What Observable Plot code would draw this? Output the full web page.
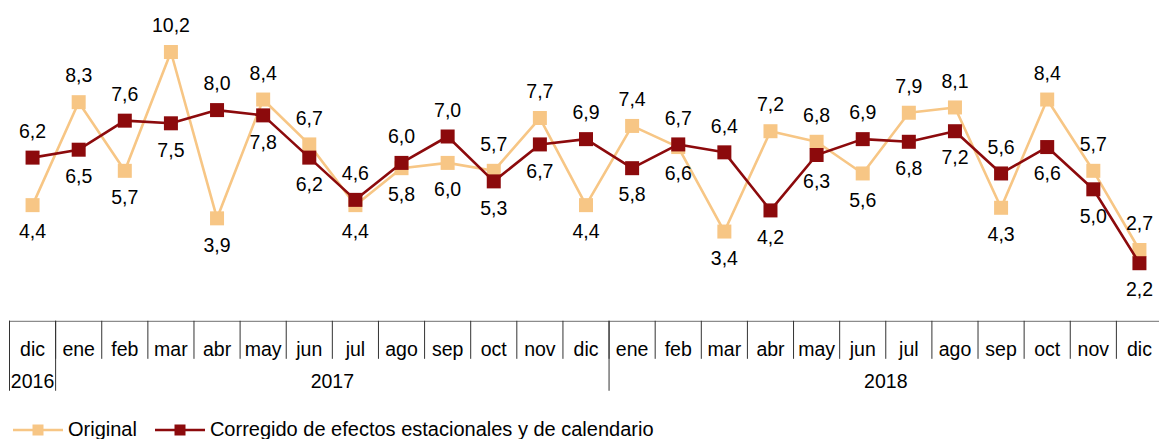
<!DOCTYPE html>
<html>
<head>
<meta charset="utf-8">
<script src="https://cdn.jsdelivr.net/npm/d3@7"></script>
<script src="https://cdn.jsdelivr.net/npm/@observablehq/plot@0.6"></script>
<style>
  html, body { margin: 0; padding: 0; background: #fff; overflow: hidden; }
  body { font-family: "Liberation Sans", Arial, sans-serif; }
  #wrap { position: relative; width: 1159px; height: 439px; }
  #legend { position: absolute; left: 0; top: 419px; height: 21px; display: flex; align-items: center; font-size: 20px; color: #000; }
  .item { display: flex; align-items: center; }
  .item svg { display: block; }
</style>
</head>
<body>
<div id="wrap">
  <div id="chart"></div>
  <div id="legend"></div>
</div>
<script>
// ---- data ----
const months = ["dic","ene","feb","mar","abr","may","jun","jul","ago","sep","oct","nov","dic",
                "ene","feb","mar","abr","may","jun","jul","ago","sep","oct","nov","dic"];
const yearLabels = ["2016", "2017", "2018"];
const yearMonthCounts = [1, 12, 12];
const original = [4.4, 8.3, 5.7, 10.2, 3.9, 8.4, 6.7, 4.4, 5.8, 6.0, 5.7, 7.7, 4.4,
                  7.4, 6.6, 3.4, 7.2, 6.8, 5.6, 7.9, 8.1, 4.3, 8.4, 5.7, 2.7];
const corrected = [6.2, 6.5, 7.6, 7.5, 8.0, 7.8, 6.2, 4.6, 6.0, 7.0, 5.3, 6.7, 6.9,
                   5.8, 6.7, 6.4, 4.2, 6.3, 6.9, 6.8, 7.2, 5.6, 6.6, 5.0, 2.2];
const seriesNames = ["Original", "Corregido de efectos estacionales y de calendario"];
const colors = ["#F7C685", "#8C0A0C"];

// ---- derived tables ----
const rows = [];
months.forEach((m, i) => {
  const o = original[i], c = corrected[i];
  rows.push({i, series: seriesNames[0], value: o, above: o > c});
  rows.push({i, series: seriesNames[1], value: c, above: c >= o});
});
const fmt = v => v.toFixed(1).replace(".", ",");

const bounds = [-0.5];
yearMonthCounts.forEach(n => bounds.push(bounds[bounds.length - 1] + n));
const yearRows = yearLabels.map((y, k) => ({label: y, x: (bounds[k] + bounds[k + 1]) / 2}));
const yearDividers = bounds.slice(0, yearLabels.length); // left edges (no right border)

const origRows = rows.filter(d => d.series === seriesNames[0]);
const corrRows = rows.filter(d => d.series === seriesNames[1]);

const chart = Plot.plot({
  width: 1159,
  height: 400,
  marginTop: 4, marginBottom: 0, marginLeft: 0, marginRight: 0,
  x: {type: "linear", domain: [-0.5, 24.5], range: [9, 1162], axis: null},
  y: {domain: [-3, 12], range: [400, 4], axis: null},
  style: {fontFamily: "'Liberation Sans', Arial, sans-serif", fontSize: "19.5px", overflow: "visible", background: "#fff"},
  marks: [
    // table
    Plot.ruleY([0], {x1: -0.5, x2: 24.5, stroke: "#8c8c8c", strokeWidth: 1.3}),
    Plot.ruleX(months, {x: (d, i) => i - 0.5, y1: 0, y2: -1.44, stroke: "#333", strokeWidth: 1}),
    Plot.ruleX(yearDividers, {x: d => d, y1: 0, y2: -2.65, stroke: "#333", strokeWidth: 1}),
    Plot.text(months, {x: (d, i) => i, y: -1.07, text: d => d, fill: "#000"}),
    Plot.text(yearRows, {x: "x", y: -2.28, text: "label", fill: "#000"}),
    // original
    Plot.line(origRows, {x: "i", y: "value", stroke: colors[0], strokeWidth: 2.6}),
    Plot.dot(origRows, {x: "i", y: "value", symbol: "square", r: 7.9, fill: colors[0], stroke: "none"}),
    // corrected
    Plot.line(corrRows, {x: "i", y: "value", stroke: colors[1], strokeWidth: 2.6}),
    Plot.dot(corrRows, {x: "i", y: "value", symbol: "square", r: 7.9, fill: colors[1], stroke: "none"}),
    // labels
    Plot.text(rows.filter(d => d.above), {x: "i", y: "value", text: d => fmt(d.value), dy: -26, fill: "#000"}),
    Plot.text(rows.filter(d => !d.above), {x: "i", y: "value", text: d => fmt(d.value), dy: 27, fill: "#000"})
  ]
});
document.getElementById("chart").appendChild(chart);

// ---- legend ----
const legend = document.getElementById("legend");
seriesNames.forEach((name, k) => {
  const item = document.createElement("div");
  item.className = "item";
  item.style.marginLeft = k === 0 ? "13px" : "18px";
  item.innerHTML =
    `<svg width="50" height="14"><line x1="0" x2="50" y1="7" y2="7" stroke="${colors[k]}" stroke-width="2.6"/>` +
    `<rect x="19.5" y="1.5" width="11" height="11" fill="${colors[k]}"/></svg>` +
    `<span style="margin-left:5px">${name}</span>`;
  legend.appendChild(item);
});
</script>
</body>
</html>
